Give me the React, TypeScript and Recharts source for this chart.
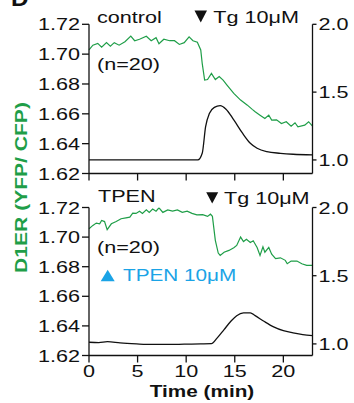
import React from "react";
import { LineChart, Line, XAxis, YAxis } from "recharts";

// time (min) / ratio readings, control cells
const ctrlGreenTime = [0, 0.4, 0.9, 1.3, 1.8, 2.2, 2.6, 3.1, 3.7, 4.3, 4.7, 5.2, 5.9, 6.4, 6.9, 7.2, 7.7, 8.3, 8.8, 9.3, 9.8, 10.3, 10.7, 11.15, 11.5, 11.65, 11.9, 12.2, 12.6, 13.0, 13.4, 13.8, 14.2, 14.9, 15.6, 16.3, 16.8, 17.1, 17.6, 18.1, 18.5, 18.8, 19.3, 19.8, 20.3, 20.8, 21.2, 21.5, 22.2, 22.6, 23.0];
const ctrlGreenRatio = [1.7028, 1.706, 1.7072, 1.7046, 1.7077, 1.7054, 1.7077, 1.706, 1.7083, 1.7121, 1.709, 1.71, 1.712, 1.709, 1.711, 1.707, 1.71, 1.709, 1.709, 1.7065, 1.7077, 1.7116, 1.709, 1.708, 1.7028, 1.6938, 1.6826, 1.683, 1.6871, 1.683, 1.685, 1.6826, 1.6793, 1.6737, 1.6692, 1.6658, 1.663, 1.6614, 1.6591, 1.6569, 1.6591, 1.6558, 1.656, 1.6535, 1.6547, 1.6517, 1.654, 1.6513, 1.6524, 1.6547, 1.6517];
const ctrlBlackTime = [0, 5, 10, 11.2, 11.65, 12.0, 12.4, 12.9, 13.5, 14.1, 14.9, 15.8, 16.6, 17.3, 18.3, 19.7, 21.0, 23.0];
const ctrlBlackRatio = [1.0, 1.0, 1.0, 1.0, 1.049, 1.245, 1.344, 1.388, 1.4, 1.374, 1.295, 1.197, 1.123, 1.086, 1.061, 1.049, 1.042, 1.037];

// TPEN treated cells
const tpenGreenTime = [0, 0.4, 0.75, 1.1, 1.3, 1.6, 1.87, 2.3, 2.8, 3.3, 3.8, 4.2, 4.5, 4.84, 5.2, 5.5, 5.9, 6.2, 6.55, 6.9, 7.2, 7.6, 8.1, 8.6, 9.1, 9.6, 10.1, 10.6, 11.1, 11.7, 12.2, 12.5, 12.7, 13.0, 13.3, 13.5, 13.9, 14.4, 14.9, 15.2, 15.6, 15.9, 16.2, 16.6, 16.9, 17.3, 17.6, 17.9, 18.1, 18.5, 18.8, 19.2, 19.7, 20.2, 20.4, 20.8, 21.4, 21.9, 22.4, 23.0];
const tpenGreenRatio = [1.7056, 1.7079, 1.7095, 1.709, 1.7112, 1.7105, 1.705, 1.709, 1.7105, 1.7124, 1.713, 1.7135, 1.7162, 1.716, 1.7175, 1.716, 1.7184, 1.7167, 1.719, 1.7175, 1.7198, 1.7167, 1.7184, 1.7175, 1.7184, 1.7167, 1.7175, 1.716, 1.715, 1.7152, 1.714, 1.7155, 1.714, 1.6978, 1.6892, 1.6876, 1.6898, 1.691, 1.6928, 1.6944, 1.7, 1.697, 1.6985, 1.6963, 1.6975, 1.693, 1.6876, 1.6935, 1.6898, 1.693, 1.6885, 1.6854, 1.686, 1.6843, 1.682, 1.6838, 1.6838, 1.682, 1.6809, 1.6809];
const tpenBlackTime = [0, 1.0, 1.9, 3.2, 4.9, 6.5, 8.2, 9.8, 11.5, 12.6, 13.2, 13.9, 14.6, 15.2, 15.9, 16.6, 17.1, 18.0, 19.0, 20.0, 21.0, 22.0, 23.0];
const tpenBlackRatio = [1.012, 1.009, 1.016, 1.007, 1.0, 0.996, 0.996, 0.998, 1.0, 1.002, 1.044, 1.105, 1.166, 1.207, 1.227, 1.227, 1.207, 1.166, 1.125, 1.097, 1.081, 1.068, 1.061];

const timeTicks = [0, 5, 10, 15, 20];
const leftTicks = [1.62, 1.64, 1.66, 1.68, 1.7, 1.72];
const rightTicks = [1.0, 1.5, 2.0];

const toRows = (ts: number[], vs: number[]) => ts.map((t, i) => ({ t, v: vs[i] }));

const FONT = "'Liberation Sans', Arial, Helvetica, sans-serif";
const GREEN = "#1f9e48";
const CYAN = "#1aa3e6";
const SX = 1.27; // the figure's lettering is wide

function Txt({ x, y, children, size = 17, sx = SX, weight = 400, fill = "#111", anchor = "start", rotate = 0, dy }: any) {
  const rot = rotate ? ` rotate(${rotate})` : "";
  return (
    <text
      transform={`translate(${x},${y})${rot} scale(${sx},1)`}
      fontSize={size}
      fontFamily={FONT}
      fontWeight={weight}
      fill={fill}
      textAnchor={anchor}
      dy={dy}
    >
      {children}
    </text>
  );
}

const leftTick = ({ x, y, payload }: any) => (
  <Txt x={x} y={y} anchor="end" dy="0.355em">{Number(payload.value).toFixed(2)}</Txt>
);
const rightTick = ({ x, y, payload }: any) => (
  <Txt x={x} y={y} anchor="start" dy="0.355em">{Number(payload.value).toFixed(1)}</Txt>
);
const timeTick = ({ x, y, payload }: any) => (
  <Txt x={x} y={y + 12} anchor="middle">{payload.value}</Txt>
);
const noTick = () => <g />;

const axisLine = { stroke: "#111", strokeWidth: 1.3 };

function Panel({ green, black, rightDomain, height, marginTop, xHeight, showTimeLabels }: any) {
  return (
    <LineChart width={354} height={height} margin={{ top: marginTop, right: 0, bottom: 0, left: 0 }}>
      <XAxis
        type="number"
        dataKey="t"
        domain={[0, 23]}
        ticks={timeTicks}
        interval={0}
        height={xHeight}
        tickSize={7}
        axisLine={axisLine}
        tickLine={axisLine}
        tick={showTimeLabels ? timeTick : noTick}
      />
      <YAxis
        yAxisId="left"
        type="number"
        domain={[1.62, 1.72]}
        ticks={leftTicks}
        interval={0}
        width={89}
        tickSize={7}
        tickMargin={2}
        axisLine={axisLine}
        tickLine={axisLine}
        tick={leftTick}
        allowDataOverflow
      />
      <YAxis
        yAxisId="right"
        orientation="right"
        type="number"
        domain={rightDomain}
        ticks={rightTicks}
        interval={0}
        width={41.5}
        tickSize={4}
        tickMargin={2}
        axisLine={axisLine}
        tickLine={axisLine}
        tick={rightTick}
        allowDataOverflow
      />
      <Line yAxisId="left" data={green} dataKey="v" type="linear" stroke={GREEN} strokeWidth={1.2} dot={false} isAnimationActive={false} />
      <Line yAxisId="right" data={black} dataKey="v" type="monotone" stroke="#111" strokeWidth={1.3} dot={false} isAnimationActive={false} />
    </LineChart>
  );
}

export default function App() {
  return (
    <div style={{ position: "absolute", left: 0, top: 0, width: 354, height: 403, background: "#fff" }}>
      <div style={{ position: "absolute", left: 0, top: 0 }}>
        <Panel
          green={toRows(ctrlGreenTime, ctrlGreenRatio)}
          black={toRows(ctrlBlackTime, ctrlBlackRatio)}
          rightDomain={[0.9, 2.0]}
          height={185}
          marginTop={24.3}
          xHeight={11.5}
          showTimeLabels={false}
        />
      </div>
      <div style={{ position: "absolute", left: 0, top: 183 }}>
        <Panel
          green={toRows(tpenGreenTime, tpenGreenRatio)}
          black={toRows(tpenBlackTime, tpenBlackRatio)}
          rightDomain={[0.915, 2.0]}
          height={220}
          marginTop={24.5}
          xHeight={47.5}
          showTimeLabels={true}
        />
      </div>
      <svg width={354} height={403} style={{ position: "absolute", left: 0, top: 0, pointerEvents: "none" }}>
        {/* panel letter, cropped at the top edge as in the source figure */}
        <Txt x={11} y={6} size={22} weight={700} sx={1.1}>D</Txt>
        <Txt x={97} y={22.7}>control</Txt>
        <Txt x={97} y={70}>(n=20)</Txt>
        <polygon points="194.5,10.5 207,10.5 200.75,22.5" fill="#111" />
        <Txt x={213.3} y={22.7}>Tg 10μM</Txt>

        <Txt x={98} y={202}>TPEN</Txt>
        <Txt x={97} y={253}>(n=20)</Txt>
        <polygon points="206.2,192.3 218.2,192.3 212.2,203.5" fill="#111" />
        <Txt x={224} y={203.5}>Tg 10μM</Txt>
        <polygon points="100.7,281.3 114.7,281.3 107.7,269.7" fill={CYAN} />
        <Txt x={123} y={281.3} fill={CYAN} sx={1.22}>TPEN 10μM</Txt>

        <Txt x={26.5} y={187.5} rotate={-90} anchor="middle" weight={700} fill={GREEN} sx={1.24}>D1ER (YFP/ CFP)</Txt>
        <Txt x={202} y={397} anchor="middle" weight={700} sx={1.22}>Time (min)</Txt>
      </svg>
    </div>
  );
}
